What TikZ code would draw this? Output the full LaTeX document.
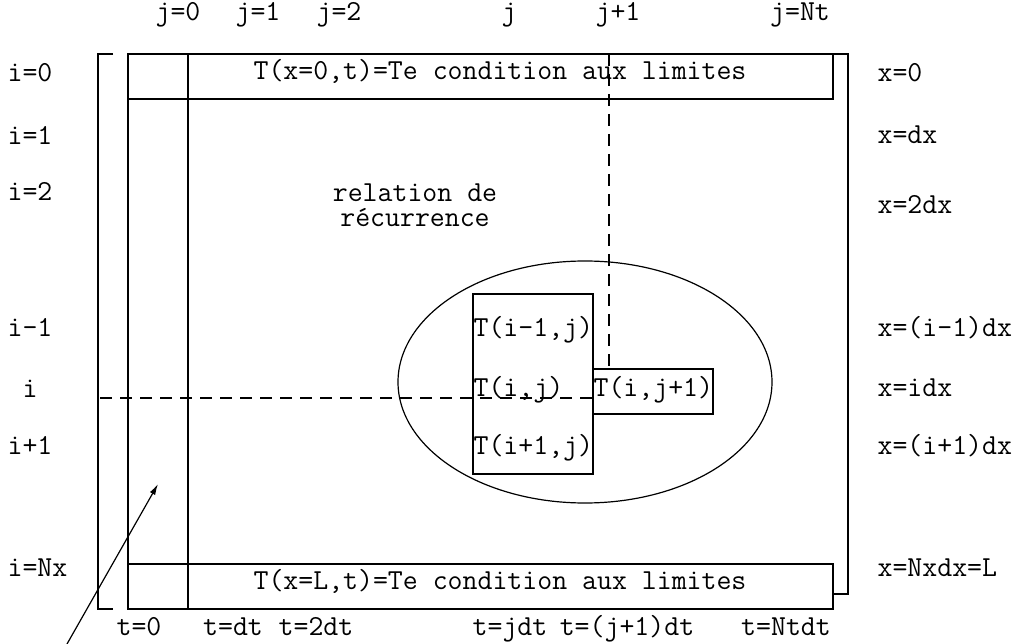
\documentclass[tikz,border=0pt]{standalone}
\usepackage{fontspec}
\setmonofont{Latin Modern Mono}
\usetikzlibrary{arrows.meta}
\begin{document}
\begin{tikzpicture}[x=1pt,y=-1pt,line width=1.2pt,
  lbl/.style={inner sep=0pt,font=\ttfamily\fontsize{29}{23}\selectfont,anchor=mid},
  lblw/.style={lbl,anchor=mid west},
  dsh/.style={dash pattern=on 12pt off 8pt},
  arr/.style={-{Latex[length=11pt,width=6pt]}}]
\useasboundingbox (0,0) rectangle (1020,644);
% brackets
\draw (113,54) -- (98,54) -- (98,609) -- (113,609);
\draw (833,54) -- (848,54) -- (848,594) -- (833,594);
% grid boxes
\draw (128,54) rectangle (188,609);
\draw (128,54) rectangle (833,99);
\draw (128,564) rectangle (833,609);
% ellipse and stencil boxes
\draw (585,382) ellipse [x radius=187pt,y radius=121pt];
\draw (473,294) rectangle (593,474);
\draw (593,369) rectangle (713,414);
% dashed guides
\coordinate (hs) at (100,398);
\coordinate (he) at (593,398);
\coordinate (vs) at (609,54);
\coordinate (ve) at (609,369);
\draw[dsh] (hs) -- (he);
\draw[dsh] (vs) -- (ve);
% arrow
\coordinate (as) at (67,644);
\coordinate (ae) at (158,484);
\draw[arr] (as) -- (ae);
% top labels
\node[lbl] (j0) at (178,18) {j=0};
\node[lbl] (j1) at (258,18) {j=1};
\node[lbl] (j2) at (339,18) {j=2};
\node[lbl] (jj) at (509,18) {j};
\node[lbl] (jp) at (618,18) {j+1};
\node[lbl] (jN) at (800,18) {j=Nt};
% bottom labels
\node[lbl] (t0) at (139,633) {t=0};
\node[lbl] (t1) at (233,633) {t=dt};
\node[lbl] (t2) at (316,633) {t=2dt};
\node[lbl] (tj) at (510,633) {t=jdt};
\node[lbl] (tp) at (627,633) {t=(j+1)dt};
\node[lbl] (tN) at (786,633) {t=Ntdt};
% left labels
\node[lblw] (i0) at (7,79) {i=0};
\node[lblw] (i1) at (7,142) {i=1};
\node[lblw] (i2) at (7,198) {i=2};
\node[lblw] (im) at (7,334) {i-1};
\node[lblw] (ii) at (22,395) {i};
\node[lblw] (ip) at (7,452) {i+1};
\node[lblw] (iN) at (7,574) {i=Nx};
% right labels
\node[lblw] (x0) at (877,79) {x=0};
\node[lblw] (x1) at (877,141) {x=dx};
\node[lblw] (x2) at (877,211) {x=2dx};
\node[lblw] (xm) at (877,334) {x=(i-1)dx};
\node[lblw] (xi) at (877,394) {x=idx};
\node[lblw] (xp) at (877,452) {x=(i+1)dx};
\node[lblw] (xN) at (877,574) {x=Nxdx=L};
% box texts
\node[lbl] (top) at (500,77) {T(x=0,t)=Te condition aux limites};
\node[lbl] (bot) at (500,587) {T(x=L,t)=Te condition aux limites};
\node[lbl] (rel1) at (415,199) {relation de};
\node[lbl] (rel2) at (415,224) {récurrence};
\node[lblw] (tm) at (473,334) {T(i-1,j)};
\node[lblw] (tc) at (473,394) {T(i,j)};
\node[lblw] (tpp) at (473,452) {T(i+1,j)};
\node[lblw] (tn) at (593,394) {T(i,j+1)};
\end{tikzpicture}
\end{document}
